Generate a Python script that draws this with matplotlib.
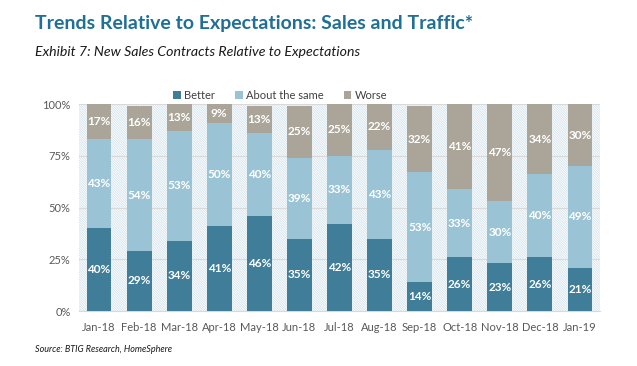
import matplotlib.pyplot as plt
import numpy as np

months = ["Jan-18", "Feb-18", "Mar-18", "Apr-18", "May-18", "Jun-18", "Jul-18",
          "Aug-18", "Sep-18", "Oct-18", "Nov-18", "Dec-18", "Jan-19"]
better = [40, 29, 34, 41, 46, 35, 42, 35, 14, 26, 23, 26, 21]
same = [43, 54, 53, 50, 40, 39, 33, 43, 53, 33, 30, 40, 49]
worse = [17, 16, 13, 9, 13, 25, 25, 22, 32, 41, 47, 34, 30]
series = [("Better", better, "#3f7d99"),
          ("About the same", same, "#9bc3d6"),
          ("Worse", worse, "#aaa598")]
yticks = [0, 25, 50, 75, 100]

plt.rcParams["font.family"] = ["Lato", "DejaVu Sans"]
plt.rcParams["hatch.linewidth"] = 0.6

fig = plt.figure(figsize=(6.37, 3.66), dpi=100)
ax = fig.add_axes([79 / 637, 1 - 311 / 366, 521 / 637, 207 / 366])

ax.patch.set_facecolor("white")
bg = plt.Rectangle((0, 0), 1, 1, transform=ax.transAxes, facecolor="white",
                   edgecolor="#d3e2ec", hatch="\\" * 14, lw=0, zorder=0)
ax.add_patch(bg)

x = np.arange(len(months))
bottom = np.zeros(len(months))
for name, vals, color in series:
    vals = np.array(vals, dtype=float)
    ax.bar(x, vals, 0.62, bottom=bottom, color=color, label=name, zorder=3)
    for xi, b, v in zip(x, bottom, vals):
        ax.text(xi, b + v / 2, f"{int(v)}%", ha="center", va="center",
                color="white", fontsize=8.5, fontweight="bold", zorder=4)
    bottom += vals

ax.set_xlim(-0.5, len(months) - 0.5)
ax.set_ylim(0, 100)
ax.set_yticks(yticks)
ax.set_yticklabels([f"{t}%" for t in yticks])
ax.set_xticks(x)
ax.set_xticklabels(months)
ax.tick_params(length=0, labelsize=8, colors="#595959", pad=8)
ax.tick_params(axis="y", pad=6)
ax.grid(axis="y", color="#d9d9d9", lw=0.8, zorder=1)
for s in ["top", "right", "left"]:
    ax.spines[s].set_visible(False)
ax.spines["bottom"].set_color("#d9d9d9")

ax.legend(loc="lower center", bbox_to_anchor=(0.386, 0.965), ncol=3, frameon=False,
          fontsize=8, handlelength=0.7, handleheight=0.7, columnspacing=1.8,
          handletextpad=0.3, labelcolor="#404040")

fig.text(35 / 637, 1 - 24 / 366, "Trends Relative to Expectations: Sales and Traffic*",
         fontsize=14, fontweight="bold", color="#1f6f97", va="center")
fig.text(35 / 637, 1 - 52 / 366, "Exhibit 7: New Sales Contracts Relative to Expectations",
         fontsize=10.2, style="italic", color="#1a1a1a", va="center")
fig.text(35 / 637, 1 - 350 / 366, "Source: BTIG Research, HomeSphere",
         fontsize=6.5, style="italic", color="#1a1a1a", va="center")

fig.savefig("out.png", dpi=100)
